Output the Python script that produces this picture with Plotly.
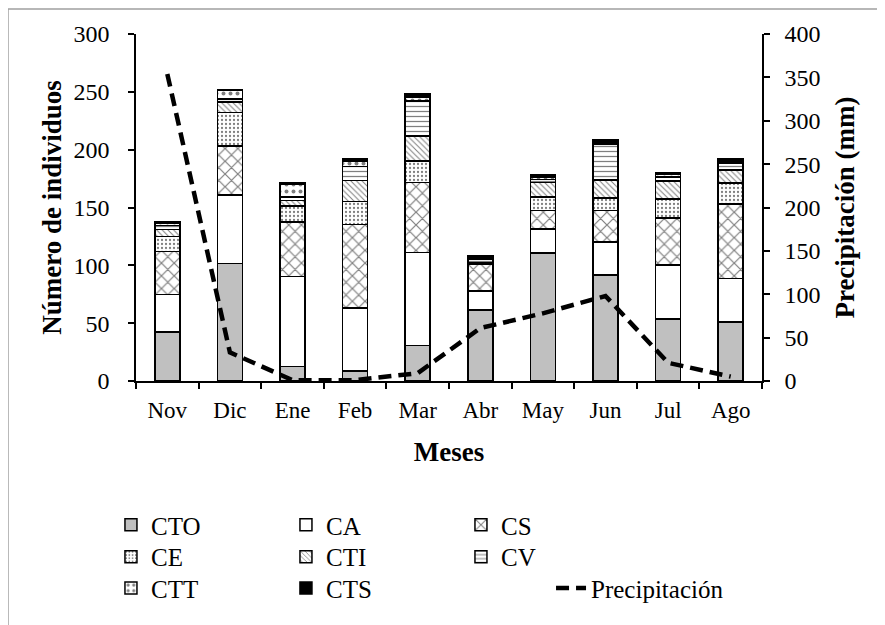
import plotly.graph_objects as go

meses = ["Nov", "Dic", "Ene", "Feb", "Mar", "Abr", "May", "Jun", "Jul", "Ago"]

cto = [42.5, 101.5, 12.4, 8.7, 30.5, 61.6, 110.7, 91.6, 53.5, 51]
ca = [32.5, 59.5, 78, 54.3, 80.5, 16.4, 20.8, 28.7, 47, 37.5]
cs = [37, 42, 47, 72.3, 60.5, 23, 16, 27, 40.5, 64.5]
ce = [13, 29, 14, 19.7, 18.5, 0.5, 11.5, 11, 16.5, 18]
cti = [6, 9, 4.7, 18.5, 22, 0.5, 12.5, 15.5, 15.5, 11.5]
cv = [3.5, 3, 3, 11.8, 30, 3, 2.5, 31, 3.5, 6]
ctt = [2, 7, 11, 4.7, 3, 1, 2.5, 1.7, 2, 1.5]
cts = [1.5, 1, 1, 2, 3, 2, 2, 2.5, 1.5, 2]

precipitacion = [354, 33, 1, 1, 9, 61, 78, 98, 21, 5]

FONT = "Liberation Serif"

series = [
    ("CTO", cto, "#c0c0c0", "", 8, "legend"),
    ("CA", ca, "white", "", 8, "legend"),
    ("CS", cs, "white", "x", 9, "legend"),
    ("CE", ce, "white", ".", 4, "legend2"),
    ("CTI", cti, "white", "\\", 4, "legend2"),
    ("CV", cv, "white", "-", 5, "legend2"),
    ("CTT", ctt, "white", ".", 7, "legend3"),
    ("CTS", cts, "black", "", 8, "legend3"),
]

fig = go.Figure()

for name, vals, color, shape, size, leg in series:
    fig.add_trace(
        go.Bar(
            x=meses,
            y=vals,
            name=name,
            width=0.4,
            legend=leg,
            marker=dict(
                color=color,
                line=dict(color="black", width=1.5),
                pattern=dict(shape=shape, fgcolor="black", bgcolor=color, size=size, solidity=0.25),
            ),
        )
    )

fig.add_trace(
    go.Scatter(
        x=meses,
        y=precipitacion,
        name="Precipitación",
        yaxis="y2",
        mode="lines",
        legend="legend4",
        line=dict(color="black", width=4.5, dash="13px,7px"),
    )
)

leg_common = dict(
    orientation="h",
    x=-0.04,
    xanchor="left",
    yanchor="middle",
    entrywidth=130,
    entrywidthmode="pixels",
    font=dict(family=FONT, size=25, color="black"),
    bgcolor="rgba(0,0,0,0)",
    traceorder="normal",
)

axis_common = dict(
    showline=True,
    linecolor="black",
    linewidth=1.5,
    ticks="outside",
    ticklen=6,
    tickwidth=1.5,
    tickcolor="black",
    showgrid=False,
    zeroline=False,
    automargin=False,
)

title_font = dict(family=FONT, size=27, color="black")

fig.update_layout(
    width=885,
    height=625,
    barmode="stack",
    plot_bgcolor="white",
    paper_bgcolor="white",
    # page body adds 8px offset, so margins are shifted by 8
    margin=dict(l=128, r=131, t=26, b=252, autoexpand=False),
    font=dict(family=FONT, size=23, color="black"),
    legend=dict(leg_common, y=-0.415),
    legend2=dict(leg_common, y=-0.507),
    legend3=dict(leg_common, y=-0.597),
    legend4=dict(leg_common, y=-0.597, x=0.663),
    xaxis=dict(
        axis_common,
        title=dict(text="<b>Meses</b>", font=title_font, standoff=20),
        tickson="boundaries",
        tickfont=dict(family=FONT, size=23, color="black"),
        ticklabelstandoff=8,
    ),
    yaxis=dict(
        axis_common,
        title=dict(text="<b>Número de individuos</b>", font=title_font, standoff=4),
        range=[0, 300],
        dtick=50,
        tickfont=dict(family=FONT, size=24, color="black"),
        ticklabelstandoff=14,
    ),
    yaxis2=dict(
        axis_common,
        title=dict(text="<b>Precipitación (mm)</b>", font=title_font, standoff=16),
        overlaying="y",
        side="right",
        range=[0, 400],
        dtick=50,
        tickfont=dict(family=FONT, size=24, color="black"),
        ticklabelstandoff=10,
    ),
    shapes=[
        dict(
            type="rect",
            xref="paper",
            yref="paper",
            x0=-0.2045,
            x1=1.4,
            y0=-1.0,
            y1=1.072,
            line=dict(color="#a0a0a0", width=1.5),
            fillcolor="rgba(0,0,0,0)",
            layer="below",
        )
    ],
)

fig.write_html("out.html")
